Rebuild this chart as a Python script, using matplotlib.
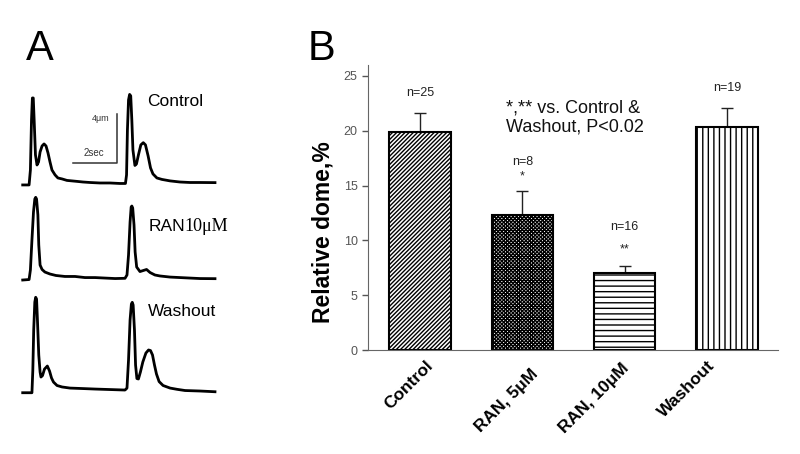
import numpy as np
import matplotlib
matplotlib.use("Agg")
from matplotlib import pyplot as plt

plt.rcParams['font.family'] = ['Liberation Sans', 'DejaVu Sans']
plt.rcParams['hatch.linewidth'] = 1.0

# ---- panel A: twitch traces (time in s, amplitude in um above baseline) ----
ctrl_t = [0.00, 0.29, 0.35, 0.40, 0.44, 0.48, 0.52, 0.58, 0.65, 0.72, 0.79, 0.88,
          0.97, 1.06, 1.15, 1.24, 1.33, 1.47, 1.60, 1.79, 2.01, 2.24, 2.47, 2.74,
          3.06, 3.51, 3.97, 4.42, 4.67, 4.72, 4.76, 4.81, 4.86, 4.91, 4.96, 5.01,
          5.10, 5.17, 5.26, 5.37, 5.48, 5.58, 5.70, 5.81, 5.92, 6.10, 6.33, 6.70,
          7.15, 7.60, 8.06, 8.74]
ctrl_y = [0.00, 0.00, 1.22, 5.31, 7.10, 7.10, 5.31, 2.45, 1.63, 1.88, 2.69, 3.18,
          3.35, 3.18, 2.61, 1.88, 1.22, 0.82, 0.57, 0.49, 0.37, 0.33, 0.29, 0.24,
          0.20, 0.16, 0.16, 0.12, 0.12, 0.82, 4.49, 6.94, 7.39, 7.27, 5.31, 2.86,
          1.59, 1.71, 2.45, 3.27, 3.45, 3.27, 2.37, 1.39, 0.90, 0.57, 0.45, 0.33,
          0.24, 0.20, 0.20, 0.19]

ran_t = [0.00, 0.29, 0.35, 0.42, 0.49, 0.55, 0.59, 0.63, 0.69, 0.73, 0.79, 0.88,
         1.01, 1.24, 1.51, 1.92, 2.38, 2.83, 3.29, 3.74, 4.20, 4.65, 4.74, 4.81,
         4.88, 4.93, 4.96, 5.00, 5.06, 5.11, 5.18, 5.33, 5.63, 5.79, 6.01, 6.24,
         6.70, 7.15, 7.60, 8.06, 8.74]
ran_y = [0.00, 0.04, 0.82, 3.27, 5.55, 6.61, 6.75, 6.61, 5.31, 2.86, 1.22, 0.86,
         0.65, 0.49, 0.37, 0.29, 0.29, 0.20, 0.20, 0.16, 0.12, 0.14, 0.41, 2.04,
         4.73, 5.96, 6.04, 5.88, 4.49, 2.29, 1.06, 0.69, 0.86, 0.61, 0.41, 0.33,
         0.24, 0.20, 0.16, 0.12, 0.11]

wash_t = [0.00, 0.42, 0.46, 0.50, 0.55, 0.59, 0.63, 0.67, 0.73, 0.79, 0.83, 0.90,
          0.99, 1.12, 1.22, 1.31, 1.40, 1.56, 1.79, 2.15, 2.74, 3.29, 3.97, 4.65,
          4.74, 4.81, 4.88, 4.94, 4.98, 5.02, 5.08, 5.13, 5.19, 5.26, 5.35, 5.46,
          5.60, 5.72, 5.81, 5.90, 5.99, 6.08, 6.20, 6.38, 6.70, 7.01, 7.38, 8.06,
          8.74]
wash_y = [0.00, 0.00, 1.85, 5.12, 7.40, 7.79, 7.65, 5.93, 3.08, 1.69, 1.28, 1.40,
          1.93, 2.18, 1.77, 1.20, 0.87, 0.59, 0.47, 0.38, 0.34, 0.30, 0.26, 0.22,
          0.38, 2.67, 5.93, 7.24, 7.38, 7.16, 5.12, 2.26, 1.16, 1.12, 1.69, 2.51,
          3.24, 3.49, 3.44, 3.08, 2.26, 1.53, 0.91, 0.59, 0.38, 0.28, 0.18, 0.14,
          0.08]

# ---- panel B: relative dome ----
groups = ['Control', 'RAN, 5\u03bcM', 'RAN, 10\u03bcM', 'Washout']
dome = [19.9, 12.3, 7.0, 20.35]
dome_err = [1.7, 2.2, 0.7, 1.75]
n_cells = ['n=25', 'n=8', 'n=16', 'n=19']
stars = ['', '*', '**', '']

fig = plt.figure(figsize=(8, 4.54), dpi=100)

# panel A
axA = fig.add_axes([0.025, 0.0969, 0.275, 0.727])
axA.set_xlim(-0.123, 9.877)
axA.set_ylim(0, 26.94)
axA.axis('off')

offsets = [18.37, 10.61, 1.41]
for t, y, off in zip([ctrl_t, ran_t, wash_t], [ctrl_y, ran_y, wash_y], offsets):
    axA.plot(t, np.array(y) + off, color='black', lw=2.0, solid_joinstyle='round')

# scale bar (2 s x 4 um)
sb_x, sb_y = 4.28, offsets[0] + 1.77
axA.plot([sb_x - 2, sb_x, sb_x], [sb_y, sb_y, sb_y + 4], color='#333333', lw=1.1)
axA.text(sb_x - 0.75, sb_y + 3.65, '4\u03bcm', fontsize=6.5, ha='center', va='center',
         color='#333333')
axA.text(sb_x - 1.05, sb_y + 0.85, '2sec', fontsize=7, ha='center', va='center',
         color='#333333')

axA.text(5.66, offsets[0] + 6.8, 'Control', fontsize=12.5, ha='left', va='center')
axA.text(5.71, offsets[1] + 4.4, 'RAN', fontsize=12.5, ha='left', va='center')
axA.text(7.35, offsets[1] + 4.4, '10\u03bcM', fontsize=13, ha='left', va='center',
         family=['Liberation Serif', 'DejaVu Serif'])
axA.text(5.71, offsets[2] + 6.6, 'Washout', fontsize=12.5, ha='left', va='center')

fig.text(0.033, 0.893, 'A', fontsize=30, ha='left', va='center')
fig.text(0.385, 0.893, 'B', fontsize=30, ha='left', va='center')

# panel B
axB = fig.add_axes([0.46, 0.229, 0.5125, 0.628])
x = np.arange(len(groups))
hatches = ['////////', 'xxxxxxxxx', '---', '|||']
axB.bar(x, dome, width=0.6, color='white', edgecolor='black', linewidth=1.5,
        hatch=hatches, zorder=2)
axB.errorbar(x, dome, yerr=[np.zeros(len(dome)), dome_err], fmt='none', ecolor='#222222',
             elinewidth=1.0, capsize=4, capthick=1.0, zorder=1)

# label heights above the error bar tops (data units)
star_gap = [0, 1.3, 1.45, 0]
n_gap = [1.8, 2.65, 3.55, 1.8]
for xi, d, e, n, s, sg, ng in zip(x, dome, dome_err, n_cells, stars, star_gap, n_gap):
    top = d + e
    if s:
        axB.text(xi, top + sg, s, fontsize=9, ha='center', va='center', color='#222222')
    axB.text(xi, top + ng, n, fontsize=9, ha='center', va='center', color='#222222')

axB.text(0.84, 21.2, '*,** vs. Control &\nWashout, P<0.02', fontsize=13, ha='left',
         va='center', linespacing=1.2, color='#111111')

axB.set_xlim(-0.51, 3.5)
axB.set_ylim(0, 26)
axB.set_yticks([0, 5, 10, 15, 20, 25])
axB.set_xticks(x)
axB.set_xticklabels([])
# rotated category labels, right end anchored near each bar
lab_dx = [0.10, 0.13, 0.02, -0.14]
lab_dy = [-1.2, -1.95, -1.45, -1.2]
for xi, g, dx, dy in zip(x, groups, lab_dx, lab_dy):
    axB.text(xi + dx, dy, g, rotation=45, ha='right', va='center', rotation_mode='anchor',
             fontsize=12.5, fontweight='bold', clip_on=False)
axB.tick_params(axis='x', length=0)
axB.tick_params(axis='y', length=4, width=1, colors='#555555', labelsize=9, direction='out')
for side in ['top', 'right']:
    axB.spines[side].set_visible(False)
axB.spines['left'].set_color('#666666')
axB.spines['bottom'].set_color('#666666')
axB.set_ylabel('Relative dome,%', fontsize=16.5, fontweight='bold')
axB.yaxis.set_label_coords(-0.082, 0.414)

fig.savefig('out.png', dpi=100)
